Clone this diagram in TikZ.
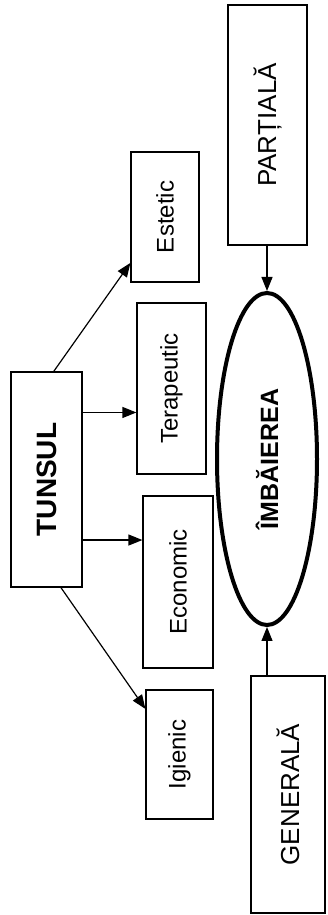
\documentclass[tikz,border=0pt]{standalone}
\usepackage{fontspec}
\setmainfont{Liberation Sans}
\usetikzlibrary{arrows.meta,calc,shapes.geometric}

\tikzset{
    box/.style={draw, line width=1.2pt, inner sep=0pt},
    arr/.style={line width=1.2pt, -{Triangle[length=14pt,width=11pt]}}
}
\newcommand{\up}[1]{\rotatebox{90}{#1}}

\begin{document}
\begin{tikzpicture}[x=1pt,y=1pt] %% one unit = one pixel of the reference
            \useasboundingbox (0,0) rectangle (328,915);

            \node[box, minimum width=71, minimum height=215] (TUNSUL) at (46.5,435.5)
                {\up{\fontsize{28}{32}\selectfont\bfseries TUNSUL}};

            \node[box, minimum width=68, minimum height=130] (Estetic) at (165,698)
                {\up{\fontsize{24}{28}\selectfont Estetic}};
            \node[box, minimum width=69, minimum height=171] (Terapeutic) at (171.5,526.5)
                {\up{\fontsize{24}{28}\selectfont Terapeutic}};
            \node[box, minimum width=70, minimum height=172] (Economic) at (178,333)
                {\up{\fontsize{24}{28}\selectfont Economic}};
            \node[box, minimum width=67, minimum height=129] (Igienic) at (179.5,160.5)
                {\up{\fontsize{24}{28}\selectfont Igienic}};

            \node[draw, ellipse, line width=4pt, inner sep=0pt, minimum width=100, minimum height=332] (Imbaiere) at (267,456)
                {\up{\fontsize{25}{29}\selectfont\bfseries ÎMBĂIEREA}};

            \node[box, minimum width=79, minimum height=240] (Partiala) at (267.5,790)
                {\up{\fontsize{26}{30}\selectfont PARȚIALĂ}};
            \node[box, minimum width=74, minimum height=237] (Generala) at (288,120.5)
                {\up{\fontsize{26}{30}\selectfont GENERALĂ}};

            % points on the right side of TUNSUL
            \coordinate (t1) at ($(TUNSUL.south east)!0.81!(TUNSUL.north east)$);
            \coordinate (t2) at ($(TUNSUL.south east)!0.22!(TUNSUL.north east)$);

            \draw[arr] ($(TUNSUL.north west)!0.6!(TUNSUL.north east)$) -- ($(Estetic.south west)!0.15!(Estetic.north west)$);
            \draw[arr] (t1) -- (t1 -| Terapeutic.west);
            \draw[arr] (t2) -- (t2 -| Economic.west);
            \draw[arr] ($(TUNSUL.south west)!0.7!(TUNSUL.south east)$) -- ($(Igienic.north west)!0.15!(Igienic.south west)$);

            \draw[arr] (Partiala.south -| Imbaiere.north) -- (Imbaiere.north);
            \draw[arr] (Generala.north -| Imbaiere.south) -- (Imbaiere.south);
\end{tikzpicture}
\end{document}
